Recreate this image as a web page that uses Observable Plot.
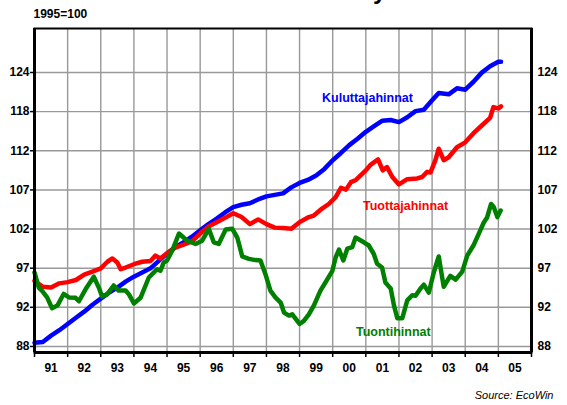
<!DOCTYPE html>
<html><head><meta charset="utf-8">
<script src="https://cdn.jsdelivr.net/npm/d3@7"></script>
<script src="https://cdn.jsdelivr.net/npm/@observablehq/plot@0.6"></script>
<style>
body{margin:0;background:#fff;}
#chart{width:567px;height:405px;}
</style>
</head><body><div id="chart"></div>
<script>
// Kuluttajahinnat (consumer prices), 1995=100
const kulT = [1991,1991.25,1991.5,1991.75,1992,1992.25,1992.5,1992.75,1993,1993.25,1993.5,1993.75,1994,1994.25,1994.5,1994.75,1995,1995.25,1995.5,1995.75,1996,1996.25,1996.5,1996.75,1997,1997.25,1997.5,1997.75,1998,1998.25,1998.5,1998.75,1999,1999.25,1999.5,1999.75,2000,2000.25,2000.5,2000.75,2001,2001.25,2001.5,2001.75,2002,2002.25,2002.5,2002.75,2003,2003.2,2003.5,2003.75,2004,2004.25,2004.5,2004.75,2005,2005.08];
const kulV = [88.4,88.5,89.2,89.8,90.5,91.2,91.9,92.7,93.4,94.1,94.7,95.4,96.0,96.5,97.0,97.9,98.8,99.6,100.2,100.9,101.7,102.5,103.2,104.0,104.7,105.0,105.2,105.7,106.1,106.3,106.5,107.3,107.9,108.3,108.9,109.8,111.0,112.0,113.1,114.0,115.0,115.8,116.6,116.7,116.4,117.1,118.0,118.2,119.6,120.7,120.5,121.4,121.2,122.4,123.8,124.8,125.5,125.5];

// Tuottajahinnat (producer prices)
const tuoT = [1991,1991.25,1991.5,1991.75,1992,1992.25,1992.5,1992.75,1993,1993.2,1993.35,1993.5,1993.6,1993.75,1994,1994.25,1994.5,1994.65,1994.8,1995,1995.25,1995.5,1995.75,1996,1996.25,1996.5,1996.75,1997,1997.25,1997.5,1997.75,1998,1998.25,1998.5,1998.75,1999,1999.28,1999.43,1999.68,1999.88,2000.09,2000.25,2000.4,2000.55,2000.7,2001,2001.15,2001.37,2001.51,2001.64,2001.8,2002,2002.25,2002.55,2002.7,2002.85,2002.95,2003.1,2003.2,2003.35,2003.5,2003.75,2004,2004.25,2004.5,2004.75,2004.85,2005,2005.08];
const tuoV = [95.5,94.8,94.7,95.2,95.35,95.6,96.25,96.6,97.0,97.8,98.2,97.7,96.9,97.1,97.5,97.8,97.9,98.55,98.2,98.85,99.55,99.9,100.3,101.3,102.2,102.75,103.3,103.9,103.4,102.5,103.1,102.5,102.05,102.0,101.9,102.75,103.4,103.6,104.5,105.1,106.0,107.25,107.0,108.0,108.3,109.6,110.4,111.1,109.6,110.05,108.7,107.7,108.4,108.5,108.7,109.4,109.3,111.0,112.6,111.0,111.4,112.8,113.5,114.8,115.9,117.0,118.6,118.4,118.7];

// Tuontihinnat (import prices)
const tntT = [1991,1991.13,1991.23,1991.38,1991.53,1991.69,1991.88,1992.04,1992.24,1992.34,1992.54,1992.79,1992.94,1993.04,1993.19,1993.39,1993.54,1993.75,1993.85,1994,1994.2,1994.45,1994.7,1994.8,1994.9,1995,1995.16,1995.36,1995.61,1995.86,1996.06,1996.26,1996.41,1996.56,1996.77,1996.97,1997.12,1997.27,1997.47,1997.67,1997.82,1997.97,1998.12,1998.27,1998.43,1998.53,1998.68,1998.78,1998.93,1999,1999.13,1999.28,1999.43,1999.63,1999.78,1999.99,2000.09,2000.19,2000.32,2000.44,2000.59,2000.69,2000.94,2001.09,2001.24,2001.34,2001.49,2001.59,2001.75,2001.85,2001.95,2002.1,2002.25,2002.4,2002.5,2002.65,2002.75,2002.9,2003.05,2003.2,2003.35,2003.55,2003.71,2003.91,2004.06,2004.26,2004.41,2004.56,2004.66,2004.78,2004.86,2004.97,2005.07];
const tntV = [96.5,94.7,94.3,93.55,92.3,92.6,93.95,93.55,93.5,93.1,94.5,96.0,94.7,93.65,93.9,94.95,94.35,94.35,93.9,92.85,93.5,95.9,96.9,96.7,97.7,97.95,99.2,101.3,100.4,100.0,100.4,101.9,100.2,100.0,101.8,101.9,100.8,98.45,98.15,98.0,97.95,96.3,94.35,93.55,92.95,91.8,91.45,91.6,90.85,90.5,90.85,91.6,92.6,94.35,95.3,96.7,98.35,99.3,97.95,99.4,99.6,100.8,100.2,99.8,98.75,97.55,97.1,95.3,94.6,92.6,91.15,91.15,93.2,93.8,93.75,94.6,95.05,94.1,96.5,98.45,94.8,96.1,95.65,96.6,98.55,99.9,101.3,102.7,103.35,105.1,104.7,103.4,104.25];

// Axis ticks and labels
const yTickValues = [88, 92.4, 97.02, 101.87, 106.96, 112.31, 117.93, 123.82];
const yTickLabels = ["88","92","97","102","107","112","118","124"];
const yearBounds = [1991,1992,1993,1994,1995,1996,1997,1998,1999,2000,2001,2002,2003,2004,2005,2006];
const yearMids = [1991.5,1992.5,1993.5,1994.5,1995.5,1996.5,1997.5,1998.5,1999.5,2000.5,2001.5,2002.5,2003.5,2004.5,2005.5];
const yearLabels = ["91","92","93","94","95","96","97","98","99","00","01","02","03","04","05"];

const seriesNames = ["Kuluttajahinnat","Tuottajahinnat","Tuontihinnat"];
const seriesColors = ["#0000FF","#FF0000","#008000"];
const labelPos = [[2001.05,120.0],[2002.2,104.9],[2001.83,89.55]];

const toRows = (T, V) => T.map((t, i) => ({t, v: V[i]}));
const kul = toRows(kulT, kulV), tuo = toRows(tuoT, tuoV), tnt = toRows(tntT, tntV);

const yLab = new Map(yTickValues.map((v, i) => [v, yTickLabels[i]]));
const xLab = new Map(yearMids.map((v, i) => [v, yearLabels[i]]));
const font = "'Liberation Sans', Arial, Helvetica, sans-serif";

const lineOpts = {x: "t", y: "v", strokeWidth: 4.5, strokeLinejoin: "round", strokeLinecap: "round"};

const plot = Plot.plot({
  width: 567, height: 405,
  marginLeft: 34, marginRight: 36, marginTop: 28, marginBottom: 53,
  style: {fontFamily: font, background: "#fff", color: "#000"},
  x: {domain: [1991, 2006]},
  y: {type: "log", domain: [87.34, 130.8]},
  marks: [
    Plot.ruleY(yTickValues, {stroke: "#999", strokeWidth: 1.4}),
    Plot.ruleX(yearBounds.slice(1, -1), {stroke: "#999", strokeWidth: 1.4}),
    Plot.axisY({anchor: "left", ticks: yTickValues, tickFormat: d => yLab.get(d), tickSize: 4, tickPadding: 1, fontSize: 12, fontWeight: "bold", label: null, strokeWidth: 1.5}),
    Plot.axisY({anchor: "right", ticks: yTickValues, tickFormat: d => yLab.get(d), tickSize: 0, tickPadding: 6, fontSize: 12, fontWeight: "bold", label: null}),
    Plot.axisX({ticks: yearBounds, tickSize: 5, tickFormat: () => "", label: null, strokeWidth: 1.5}),
    Plot.axisX({ticks: yearMids, tickSize: 0, tickPadding: 11, tickFormat: d => xLab.get(d), fontSize: 12, fontWeight: "bold", label: null}),
    Plot.line(kul, {...lineOpts, stroke: seriesColors[0]}),
    Plot.line(tuo, {...lineOpts, stroke: seriesColors[1]}),
    Plot.line(tnt, {...lineOpts, stroke: seriesColors[2]}),
    Plot.frame({stroke: "#000", strokeWidth: 2}),
    Plot.ruleX([1991, 2006], {stroke: "#000", strokeWidth: 3}),
    Plot.ruleY([87.34], {stroke: "#000", strokeWidth: 3}),
    Plot.text(seriesNames, {x: (d, i) => labelPos[i][0], y: (d, i) => labelPos[i][1], text: d => d, fill: (d, i) => seriesColors[i], fontSize: 12.5, fontWeight: "bold", textAnchor: "middle"}),
    Plot.text(["1995=100"], {frameAnchor: "top-left", dx: -1, dy: -14, textAnchor: "start", lineAnchor: "middle", fontSize: 12, fontWeight: "bold"}),
    Plot.text(["Suomen hintakehitys"], {frameAnchor: "top", dx: -4, dy: -37, textAnchor: "middle", lineAnchor: "middle", fontSize: 24, fontWeight: "bold"}),
    Plot.text(["Source: EcoWin"], {frameAnchor: "bottom-right", dx: 22, dy: 43, textAnchor: "end", lineAnchor: "middle", fontSize: 11, fontStyle: "italic"})
  ]
});
document.getElementById("chart").appendChild(plot);
</script>
</body></html>
